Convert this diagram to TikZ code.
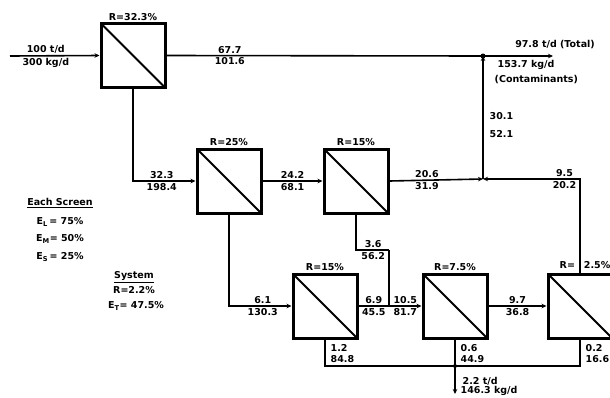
\documentclass[tikz,border=0pt]{standalone}
\usepackage{fontspec}
\setmainfont{DejaVu Sans}
\usepackage{tikz}
\usetikzlibrary{arrows.meta,positioning,calc}

\begin{document}
\begin{tikzpicture}[
  x=1pt, y=-1pt,
  font=\bfseries\fontsize{9.5}{10}\selectfont,
  screen/.style={draw, rectangle, minimum size=64pt, inner sep=0pt, line width=3pt,
    path picture={\draw[line width=2pt] (path picture bounding box.north west) -- (path picture bounding box.south east);}},
  >={Stealth[length=5pt,width=4.5pt]},
  flow/.style={line width=1.6pt},
  arrline/.style={->, line width=1.6pt},
  num/.style={inner sep=1.5pt},
]
\useasboundingbox (0,0) rectangle (610,397);

% ============ screens ============
\node[screen, label={[num]above:R=32.3\%}] (s1) at (133,55.5) {};
\node[screen, label={[num]above:R=25\%}] (s2) at (229,181) {};
\node[screen, label={[num]above:R=15\%}] (s3) at (356,181) {};
\node[screen, label={[num]above:R=15\%}] (s4) at (325,306) {};
\node[screen, label={[num]above:R=7.5\%}] (s5) at (455,306) {};
\node[screen] (s6) at (580,306) {};
\node[num] (r6) at (585,265) {R=\hspace{9pt}2.5\%};

% ============ junction points ============
\coordinate (feed) at (10,56);
\coordinate (j1) at (483,56);
\coordinate (prod) at (553,56);
\coordinate (j2) at (483,179);
\coordinate (k1) at (389,250);
\coordinate (m1) at (389,306);
\coordinate (j3) at (455,366);
\coordinate (reject) at (455,394);

% ============ feed and accepts ============
\draw[arrline] (feed) -- node[pos=0.4,num,above]{100 t/d} node[pos=0.4,num,below]{300 kg/d} (s1.west);
\draw[flow] (s1.east) -- node[pos=0.2,num,above]{67.7} node[pos=0.2,num,below]{101.6} (j1);
\draw[arrline] (j1) -- (prod);
\fill (j1) circle (2.5pt);
\node[num] (tot) at (555,45) {97.8 t/d (Total)};
\node[num, anchor=west] (cont) at (496,65) {153.7 kg/d};
\node[num, anchor=west] (cont2) at (493,80) {(Contaminants)};

% ============ rejects of screen 1 ============
\draw[arrline] (s1.south) |- node[pos=0.73,num,above]{32.3} node[pos=0.73,num,below]{198.4} (s2.west);
\draw[arrline] (s2.east) -- node[num,above]{24.2} node[num,below]{68.1} (s3.west);
\draw[arrline] (s3.east) -- node[pos=0.4,num,above]{20.6} node[pos=0.4,num,below]{31.9} (j2);
\draw[arrline] (s6.north) |- node[pos=0.58,num,above]{9.5} node[pos=0.58,num,below]{20.2} (j2);
\draw[arrline] (j2) -- (j1);
\node[num, anchor=west] (a30) at (488,116) {30.1};
\node[num, anchor=west] (a52) at (488,134) {52.1};

% ============ lower row ============
\draw[arrline] (s2.south) |- node[pos=0.77,num,above]{6.1} node[pos=0.77,num,below]{130.3} (s4.west);
\draw[flow] (s3.south) |- node[pos=0.76,num,above]{3.6} node[pos=0.76,num,below]{56.2} (k1);
\draw[flow] (k1) -- (m1);
\draw[flow] (s4.east) -- node[num,above]{6.9} node[num,below]{45.5} (m1);
\draw[arrline] (m1) -- node[num,above]{10.5} node[num,below]{81.7} (s5.west);
\draw[arrline] (s5.east) -- node[num,above]{9.7} node[num,below]{36.8} (s6.west);

% ============ final rejects ============
\draw[flow] (s4.south) |- (j3);
\draw[flow] (s6.south) |- (j3);
\draw[flow] (s5.south) -- (j3);
\draw[arrline] (j3) -- (reject);
\fill (j3) circle (2pt);
\node[num, anchor=west] (b1) at (329,348) {1.2};
\node[num, anchor=west] (b2) at (329,359) {84.8};
\node[num, anchor=west] (b3) at (459,348) {0.6};
\node[num, anchor=west] (b4) at (459,359) {44.9};
\node[num, anchor=west] (b5) at (584,348) {0.2};
\node[num, anchor=west] (b6) at (584,359) {16.6};
\node[num, anchor=west] (out1) at (461,381) {2.2 t/d};
\node[num, anchor=west] (out2) at (459,391) {146.3 kg/d};

% ============ notes ============
\node[num] (each) at (60,203) {\underline{Each Screen}};
\node[num] (el) at (60,222) {E\textsubscript{L}\,= 75\%};
\node[num] (em) at (60,239) {E\textsubscript{M}= 50\%};
\node[num] (es) at (60,257) {E\textsubscript{S}\,= 25\%};
\node[num] (sys) at (134,277) {\underline{System}};
\node[num] (rsys) at (134,290) {R=2.2\%};
\node[num] (et) at (136,306) {E\textsubscript{T}= 47.5\%};

\end{tikzpicture}
\end{document}
